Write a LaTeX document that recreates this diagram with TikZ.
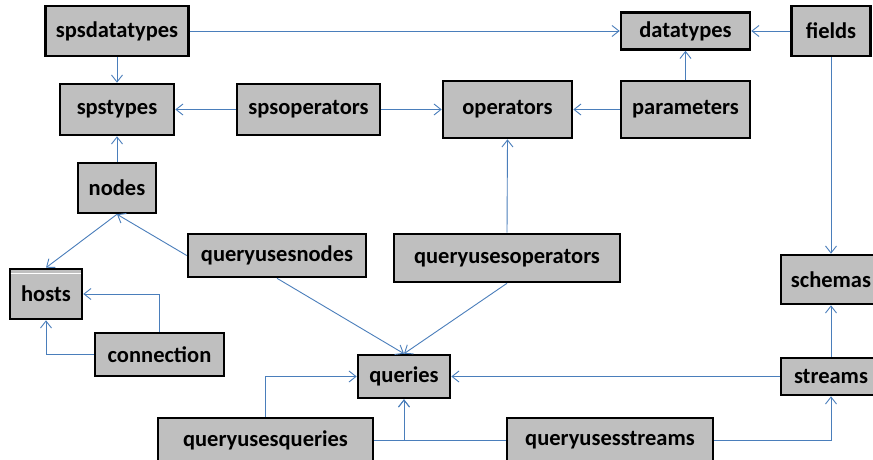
\documentclass[tikz,border=0pt]{standalone}
\usepackage{fontspec}
\setmainfont{Carlito}
\usetikzlibrary{arrows.meta}
\definecolor{tablegray}{HTML}{BFBFBF}
\definecolor{linkblue}{HTML}{4A7EBB}

\begin{document}
\begin{tikzpicture}[
    x=1pt, y=1pt,
    every node/.style={font=\bfseries\fontsize{22.5}{26}\selectfont},
    tbl/.style={draw=black, fill=tablegray, line width=2.6pt, inner sep=0pt},
    link/.style={draw=linkblue, line width=0.9pt, -{Straight Barb[length=7pt,width=11pt]}},
]

% Frame
\useasboundingbox[fill=white] (0,0) rectangle (873,460);

% === Type tables ===
\node[tbl, minimum width=143, minimum height=50] (spsdatatypes) at (117,429) {spsdatatypes};
\node[tbl, minimum width=114, minimum height=51] (spstypes) at (117,350.5) {spstypes};
\node[tbl, minimum width=78, minimum height=50] (nodes) at (117,272) {nodes};
\node[tbl, minimum width=143, minimum height=51] (spsoperators) at (308.5,350.5) {spsoperators};
\node[tbl, minimum width=129, minimum height=57] (operators) at (507.5,350.5) {operators};
\node[tbl, minimum width=129, minimum height=37] (datatypes) at (685.5,429) {datatypes};
\node[tbl, minimum width=79, minimum height=50] (fields) at (831,429) {fields};
\node[tbl, minimum width=129, minimum height=57] (parameters) at (685.5,350.5) {parameters};

% === Host tables ===
\node[tbl, minimum width=72, minimum height=50] (hosts) at (46,166) {hosts};
\draw[white, line width=1pt] ([shift={(2,-6)}]hosts.north west) -- ([shift={(-2,-6)}]hosts.north east);
\node[tbl, minimum width=129, minimum height=43] (connection) at (159.5,105.5) {connection};

% === Query tables ===
\node[tbl, minimum width=178, minimum height=43] (queryusesnodes) at (277,204.5) {queryusesnodes};
\node[tbl, minimum width=226, minimum height=48] (queryusesoperators) at (507,202) {queryusesoperators};
\node[tbl, minimum width=92, minimum height=43] (queries) at (404,83.5) {queries};
\node[tbl, minimum width=215, minimum height=44] (queryusesqueries) at (265.5,20) {queryusesqueries};
\node[tbl, minimum width=206, minimum height=44] (queryusesstreams) at (610,20) {queryusesstreams};

% === Stream tables ===
\node[tbl, minimum width=100, minimum height=49] (schemas) at (831,180.5) {schemas};
\node[tbl, minimum width=100, minimum height=37] (streams) at (831,83.5) {streams};

% === Links ===
\draw[link] (spsdatatypes.east) -- (datatypes.west);
\draw[link] (spsdatatypes.south) -- (spstypes.north);
\draw[link] (spsoperators.west) -- (spstypes.east);
\draw[link] (spsoperators.east) -- (operators.west);
\draw[link] (parameters.west) -- (operators.east);
\draw[link] (parameters.north) -- (datatypes.south);
\draw[link] (fields.west) -- (datatypes.east);
\draw[link] (fields.south) -- (schemas.north);
\draw[link] (streams.north) -- (schemas.south);
\draw[link] (nodes.north) -- (spstypes.south);
\draw[link] (nodes.south) -- (hosts.north);
\draw[link] (queryusesnodes.west) -- (nodes.south);
\draw[link] (connection.north) |- (hosts.east);
\draw[link] (connection.west) -| (hosts.south);
\draw[link] (queryusesnodes.south) -- (queries.north);
\draw[link] (queryusesoperators.north) -- (operators.south);
\draw[link] (queryusesoperators.south) -- (queries.north);
\draw[link] (streams.west) -- (queries.east);
\draw[link] (queryusesstreams.east) -| (streams.south);
\draw[link] (queryusesqueries.north) |- (queries.west);
\draw[link] (queryusesqueries.east) -| (queries.south);
\draw[link] (queryusesstreams.west) -| (queries.south);

\end{tikzpicture}
\end{document}
